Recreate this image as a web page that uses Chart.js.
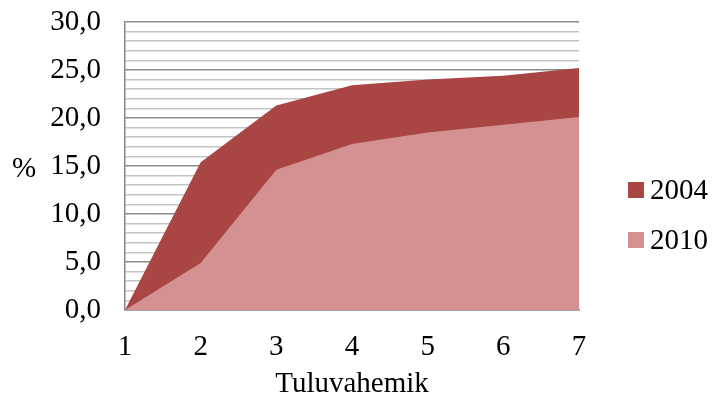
<!DOCTYPE html>
<html>
<head>
<meta charset="utf-8">
<script src="https://cdn.jsdelivr.net/npm/chart.js@4"></script>
<style>
  html, body { margin: 0; padding: 0; background: #fff; }
  #wrap { width: 712px; height: 398px; }
</style>
</head>
<body>
<div id="wrap"><canvas id="chart" width="712" height="398"></canvas></div>
<script>
const categories = ['1', '2', '3', '4', '5', '6', '7'];
const seriesNames = ['2004', '2010'];
const values2004 = [0, 15.4, 21.3, 23.4, 24.0, 24.4, 25.2];
const values2010 = [0, 4.9, 14.6, 17.3, 18.5, 19.3, 20.1];
const xTitle = 'Tuluvahemik';
const yTitle = '%';

const FONT = "'Liberation Serif', 'Times New Roman', serif";
const colors = {'2004': 'rgb(169,69,67)', '2010': 'rgb(211,146,145)'};

// y title "%" is horizontal, legend sits to the right of the plot
const extras = {
    id: 'extras',
    afterDraw(chart) {
        const ctx = chart.ctx;
        ctx.save();
        ctx.fillStyle = '#000';
        ctx.font = '29px ' + FONT;
        ctx.textBaseline = 'middle';
        ctx.textAlign = 'left';
        ctx.fillText(yTitle, 12, 169);
        seriesNames.forEach((name, i) => {
            const y = 190 + i * 50;
            ctx.fillStyle = colors[name];
            ctx.fillRect(628, y - 8, 16, 16);
            ctx.fillStyle = '#000';
            ctx.fillText(name, 650, y + 1);
        });
        ctx.restore();
    }
};

new Chart(document.getElementById('chart'), {
    type: 'line',
    data: {
        labels: categories,
        // 2010 first so it is drawn over 2004
        datasets: [
            {label: '2010', data: values2010, backgroundColor: colors['2010'], fill: 'origin', borderWidth: 0, pointRadius: 0, tension: 0},
            {label: '2004', data: values2004, backgroundColor: colors['2004'], fill: 'origin', borderWidth: 0, pointRadius: 0, tension: 0}
        ]
    },
    options: {
        responsive: false,
        animation: false,
        layout: {padding: {left: 39, right: 133, top: 22, bottom: 0}},
        plugins: {legend: {display: false}, tooltip: {enabled: false}},
        scales: {
            x: {
                offset: false,
                grid: {display: false, drawTicks: false},
                border: {display: true, color: '#868686', width: 1.5},
                ticks: {color: '#000', font: {family: FONT, size: 29}, padding: 20, maxRotation: 0},
                title: {display: true, text: xTitle, color: '#000', font: {family: FONT, size: 29, lineHeight: 1}, padding: {top: 8, bottom: -1}},
                afterFit: s => { s.height = 88; }
            },
            y: {
                min: 0,
                max: 30,
                grid: {
                    drawTicks: true,
                    tickLength: 24,
                    tickColor: 'rgba(0,0,0,0)',
                    color: c => (c.tick && c.tick.value % 5 === 0) ? '#8a8a8a' : '#c4c4c4',
                    lineWidth: 1.5
                },
                border: {display: true, color: '#868686', width: 1.5},
                ticks: {
                    stepSize: 1,
                    autoSkip: false,
                    color: '#000',
                    font: {family: FONT, size: 29},
                    padding: 0,
                    callback: v => v % 5 === 0 ? v.toFixed(1).replace('.', ',') : ''
                },
                afterFit: s => { s.width = 86; }
            }
        }
    },
    plugins: [extras]
});
</script>
</body>
</html>
